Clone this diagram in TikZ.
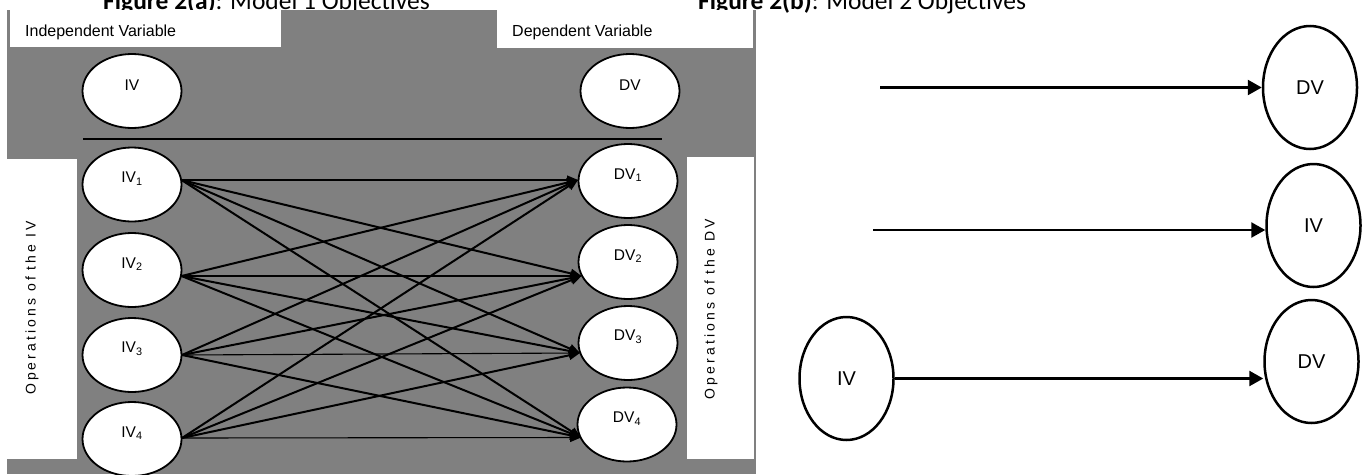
\documentclass[tikz,border=0pt]{standalone}
\usepackage{fontspec}
\setmainfont{Liberation Sans}
\newfontfamily\titlefont{Carlito}
\usetikzlibrary{shapes.geometric,arrows.meta}
\definecolor{panelgray}{HTML}{808080}
\begin{document}
\begin{tikzpicture}[x=1pt,y=-1pt,
  whitebox/.style={fill=white,draw=none},
  lv/.style={ellipse,draw=black,line width=1.8pt,fill=white,minimum width=99pt,minimum height=74pt,inner sep=0pt},
  lvtxt/.style={font=\fontsize{15.5}{18}\selectfont,inner sep=0pt},
  hdrtxt/.style={font=\fontsize{16}{19}\selectfont,inner sep=0pt,anchor=west},
  optext/.style={rotate=90,font=\fontsize{14}{16}\selectfont\addfontfeature{LetterSpace=22},inner sep=0pt},
  cross/.style={line width=2pt,-{Triangle[length=11pt,width=9pt]}},
  flat/.style={line width=1.1pt,-{Triangle[length=11pt,width=9pt]}},
  rv/.style={ellipse,draw=black,line width=2.5pt,minimum width=94pt,minimum height=123pt,inner sep=0pt,font=\fontsize{20}{24}\selectfont},
  rarrow/.style={line width=2.5pt,-{Triangle[length=14pt,width=15pt]}},
  titletxt/.style={anchor=base west,inner sep=0pt,font=\titlefont\fontsize{25.5}{30}\selectfont}
]
\useasboundingbox (0,0) rectangle (1364,474);
% titles (partly cut by the page top, as in the reference)
\node[titletxt] (ta) at (103,9.5) {\textbf{Figure 2(a)}: Model 1 Objectives};
\node[titletxt] (tb) at (698,9.5) {\textbf{Figure 2(b)}: Model 2 Objectives};
% ---------- panel (a) ----------
\fill[panelgray] (7,10) rectangle (756,474);
\fill[whitebox] (10,10) rectangle (281,47);
\fill[whitebox] (497,10) rectangle (753,48);
\fill[whitebox] (7,159) rectangle (77,459);
\fill[whitebox] (687,157) rectangle (754,459);
\node[hdrtxt] (hiv) at (25,32) {Independent Variable};
\node[hdrtxt] (hdv) at (512,32) {Dependent Variable};
\node[optext] (opiv) at (32,308) {Operations of the IV};
\node[optext] (opdv) at (711,309) {Operations of the DV};
\coordinate (sepL) at (83,139);
\coordinate (sepR) at (662,139);
\draw[line width=1.5pt] (sepL) -- (sepR);
% ellipses
\node[lv] (IV)  at (132,91) {};
\node[lv] (IV1) at (132,184.5) {};
\node[lv] (IV2) at (132,270) {};
\node[lv] (IV3) at (132,355) {};
\node[lv] (IV4) at (132,439) {};
\node[lv] (DV)  at (630,91) {};
\node[lv] (DV1) at (628,181) {};
\node[lv] (DV2) at (628,262) {};
\node[lv] (DV3) at (628,343) {};
\node[lv] (DV4) at (627,424.5) {};
\node[lvtxt] (tIV)  at ([yshift=6pt]IV)  {IV};
\node[lvtxt] (tIV1) at ([yshift=6pt]IV1) {IV\textsubscript{1}};
\node[lvtxt] (tIV2) at ([yshift=6pt]IV2) {IV\textsubscript{2}};
\node[lvtxt] (tIV3) at ([yshift=6pt]IV3) {IV\textsubscript{3}};
\node[lvtxt] (tIV4) at ([yshift=6pt]IV4) {IV\textsubscript{4}};
\node[lvtxt] (tDV)  at ([yshift=6pt]DV)  {DV};
\node[lvtxt] (tDV1) at ([yshift=6pt]DV1) {DV\textsubscript{1}};
\node[lvtxt] (tDV2) at ([yshift=6pt]DV2) {DV\textsubscript{2}};
\node[lvtxt] (tDV3) at ([yshift=6pt]DV3) {DV\textsubscript{3}};
\node[lvtxt] (tDV4) at ([yshift=6pt]DV4) {DV\textsubscript{4}};
% connector end points on the ellipse borders
\coordinate (a1) at (181.5,180);
\coordinate (a2) at (181.5,276);
\coordinate (a3) at (182,355);
\coordinate (a4) at (182,438);
\coordinate (b1) at (578,180);
\coordinate (b2) at (581.5,276);
\coordinate (b3) at (580,353);
\coordinate (b4) at (581,437.5);
\foreach \i/\j in {1/2,1/3,1/4,2/1,2/3,2/4,3/1,3/2,3/4,4/1,4/2,4/3}
  \draw[cross] (a\i) -- (b\j);
\foreach \i in {1,2,3,4}
  \draw[flat] (a\i) -- (b\i);
% ---------- panel (b) ----------
\node[rv] (D1) at (1310,87.5) {DV};
\node[rv] (I2) at (1313.5,225.5) {IV};
\node[rv] (D3) at (1311.5,361.5) {DV};
\node[rv] (IVL) at (846.5,378.5) {IV};
\coordinate (f1) at (880,87.5);
\coordinate (f2) at (873,230);
\draw[rarrow] (f1) -- (D1.west);
\draw[rarrow] (f2) -- (f2 -| I2.west);
\draw[rarrow] (IVL.east) -- (IVL.east -| D3.west);
\end{tikzpicture}
\end{document}
